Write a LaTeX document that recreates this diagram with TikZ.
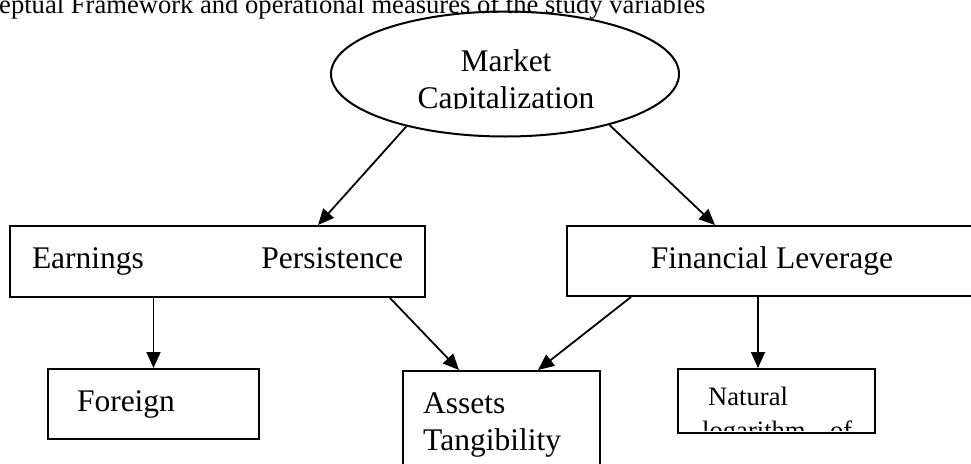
\documentclass[tikz,border=0pt]{standalone}
\usepackage{fontspec}
\setmainfont{Liberation Serif}
\usetikzlibrary{arrows.meta,shapes.geometric,positioning}

\newcommand\bigsize{\fontsize{31.5}{37}\selectfont}
\newcommand\smallsize{\fontsize{26.6}{34}\selectfont}

\tikzset{
  box/.style={draw,line width=2pt,rectangle,inner ysep=0pt,font=\bigsize},
  conn/.style={line width=1.8pt,-{Triangle[length=16pt,width=14pt]}},
  lbl/.style={inner sep=0pt,anchor=base west}
}

\begin{document}
\begin{tikzpicture}[x=1pt,y=-1pt]
  \useasboundingbox (0,0) rectangle (971,463);
  \clip (0,0) rectangle (971,463);

  \node[lbl,font=\smallsize] (title) at (-1,13)
    {eptual Framework and operational measures of the study variables};

  % top variable
  \node[draw,line width=2pt,ellipse,inner sep=0pt,
        minimum width=348,minimum height=125] (mc) at (505,74) {};
  \begin{scope}
    \clip (300,20) rectangle (700,108);
    \node[inner sep=0pt,anchor=base,text width=250,align=center,font=\bigsize]
      (mctxt) at (506,71) {Market\\Capitalization};
  \end{scope}

  % middle row
  \node[box,minimum width=415,minimum height=71,text width=371,inner xsep=22pt]
    (ep) at (217.5,261.5) {Earnings\hfill Persistence};
  \node[box,minimum width=410,minimum height=70] (fl) at (772,261) {Financial Leverage};

  % bottom row
  \node[box,minimum width=211,minimum height=70,text width=153,inner xsep=29pt,align=left]
    (fo) at (153.5,404) {Foreign};
  \node[box,minimum width=197,minimum height=119] (at) at (501.5,430.5) {};
  \node[lbl,text width=170,align=left,font=\bigsize] (attxt) at (423,413)
    {Assets\\Tangibility};
  \node[box,minimum width=197,minimum height=64] (nl) at (776.5,401) {};
  \begin{scope}
    \clip (680,371) rectangle (873,430);
    \node[lbl,text width=150,font=\smallsize] (nltxt) at (702,405)
      {\hspace*{6pt}Natural\\\makebox[150pt]{logarithm\hfill of}};
  \end{scope}

  \draw[conn] (mc.208) -- ([xshift=100.5pt]ep.north);
  \draw[conn] (mc.334) -- ([xshift=-57pt]fl.north);
  \draw[conn] (fo.north |- ep.south) -- (fo.north);
  \draw[conn] ([xshift=172.5pt]ep.south) -- ([xshift=-42.5pt]at.north);
  \draw[conn] ([xshift=-141pt]fl.south) -- ([xshift=36.5pt]at.north);
  \draw[conn] ([xshift=-14pt]fl.south) -- ([xshift=-18.5pt]nl.north);
\end{tikzpicture}
\end{document}
